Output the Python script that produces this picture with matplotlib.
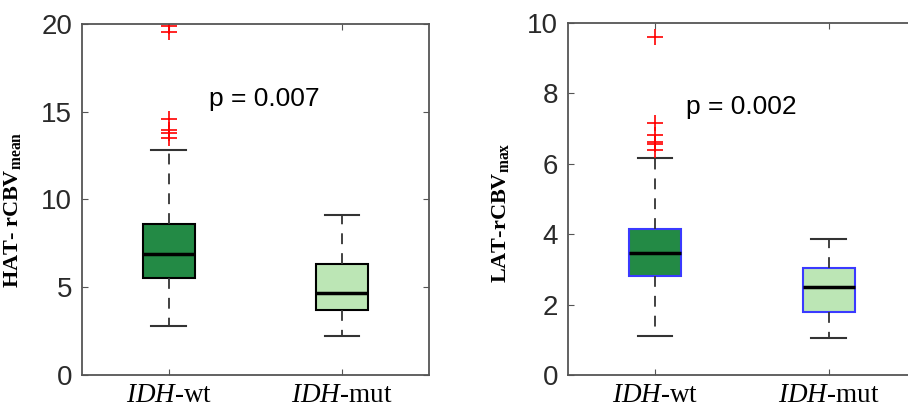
import matplotlib
matplotlib.use("Agg")
import matplotlib.pyplot as plt

plt.rcParams["mathtext.fontset"] = "custom"
plt.rcParams["mathtext.rm"] = "Liberation Serif"
plt.rcParams["mathtext.it"] = "Liberation Serif:italic"
plt.rcParams["mathtext.bf"] = "Liberation Serif:bold"

# =========================================================
# DATA
# =========================================================
groups = ["wt", "mut"]
tick_labels = [r"$\mathit{IDH}$-wt", r"$\mathit{IDH}$-mut"]

# HAT - rCBV mean
hat_low = [2.8, 2.2]
hat_q1 = [5.5, 3.7]
hat_med = [6.9, 4.7]
hat_q3 = [8.6, 6.3]
hat_high = [12.8, 9.1]
hat_fliers = [[19.9, 19.55, 14.6, 13.95, 13.8, 13.5], []]
hat_p = "p = 0.007"

# LAT - rCBV max
lat_low = [1.1, 1.05]
lat_q1 = [2.8, 1.8]
lat_med = [3.45, 2.5]
lat_q3 = [4.15, 3.05]
lat_high = [6.15, 3.85]
lat_fliers = [[9.6, 7.15, 6.82, 6.62, 6.55, 6.38], []]
lat_p = "p = 0.002"

colors = ["#238a45", "#bce6b5"]


def make_stats(low, q1, med, q3, high, fliers):
    return [
        {"whislo": low[i], "q1": q1[i], "med": med[i], "q3": q3[i],
         "whishi": high[i], "fliers": fliers[i], "label": tick_labels[i]}
        for i in range(len(groups))
    ]


def draw_panel(ax, stats, edge, ylim, yticks, ylabel, ptext, pxy):
    bp = ax.bxp(stats, positions=[1, 2], widths=0.3, patch_artist=True,
                showfliers=True,
                boxprops=dict(edgecolor=edge, linewidth=1.5),
                medianprops=dict(color="black", linewidth=2.5),
                whiskerprops=dict(color="#333333", linestyle=(0, (6, 5)), linewidth=1.3),
                capprops=dict(color="#333333", linewidth=1.5),
                flierprops=dict(marker="+", markeredgecolor="red", markersize=11,
                                markeredgewidth=1.2, linestyle="none"))
    for patch, c in zip(bp["boxes"], colors):
        patch.set_facecolor(c)
    for cap in bp["caps"]:
        x = cap.get_xdata()
        mid = (x[0] + x[1]) / 2
        cap.set_xdata([mid - 0.1, mid + 0.1])

    ax.set_xlim(0.5, 2.5)
    ax.set_ylim(*ylim)
    ax.set_yticks(yticks)
    ax.set_xticks([1, 2])
    ax.set_xticklabels(tick_labels, fontsize=19.5, family="Liberation Serif")
    ax.tick_params(axis="both", direction="in", top=True, right=True,
                   length=4, color="#555555")
    ax.tick_params(axis="y", labelsize=20, pad=7)
    ax.tick_params(axis="x", pad=6)
    for lbl in ax.get_yticklabels():
        lbl.set_family("Liberation Sans")
        lbl.set_color("#2a2a2a")
    for s in ax.spines.values():
        s.set_color("#555555")
        s.set_linewidth(1.3)
    ax.set_ylabel(ylabel, fontsize=16, family="Liberation Serif",
                  fontweight="bold")
    ax.text(pxy[0], pxy[1], ptext, fontsize=19, family="Liberation Sans",
            ha="left", va="center")


fig = plt.figure(figsize=(9.08, 4.11), dpi=100)
ax1 = fig.add_axes([0.0903, 0.0876, 0.382, 0.854])
ax2 = fig.add_axes([0.6256, 0.0876, 0.383, 0.857])

draw_panel(ax1, make_stats(hat_low, hat_q1, hat_med, hat_q3, hat_high, hat_fliers),
           "black", (0, 20), [0, 5, 10, 15, 20],
           r"HAT- rCBV$_{\mathbf{mean}}$", hat_p, (1.23, 15.7))
draw_panel(ax2, make_stats(lat_low, lat_q1, lat_med, lat_q3, lat_high, lat_fliers),
           "#3a3aff", (0, 10), [0, 2, 4, 6, 8, 10],
           r"LAT-rCBV$_{\mathbf{max}}$", lat_p, (1.18, 7.6))

ax1.yaxis.set_label_coords(-0.17, 0.47)
ax2.yaxis.set_label_coords(-0.165, 0.46)

fig.savefig("out.png", dpi=100)
